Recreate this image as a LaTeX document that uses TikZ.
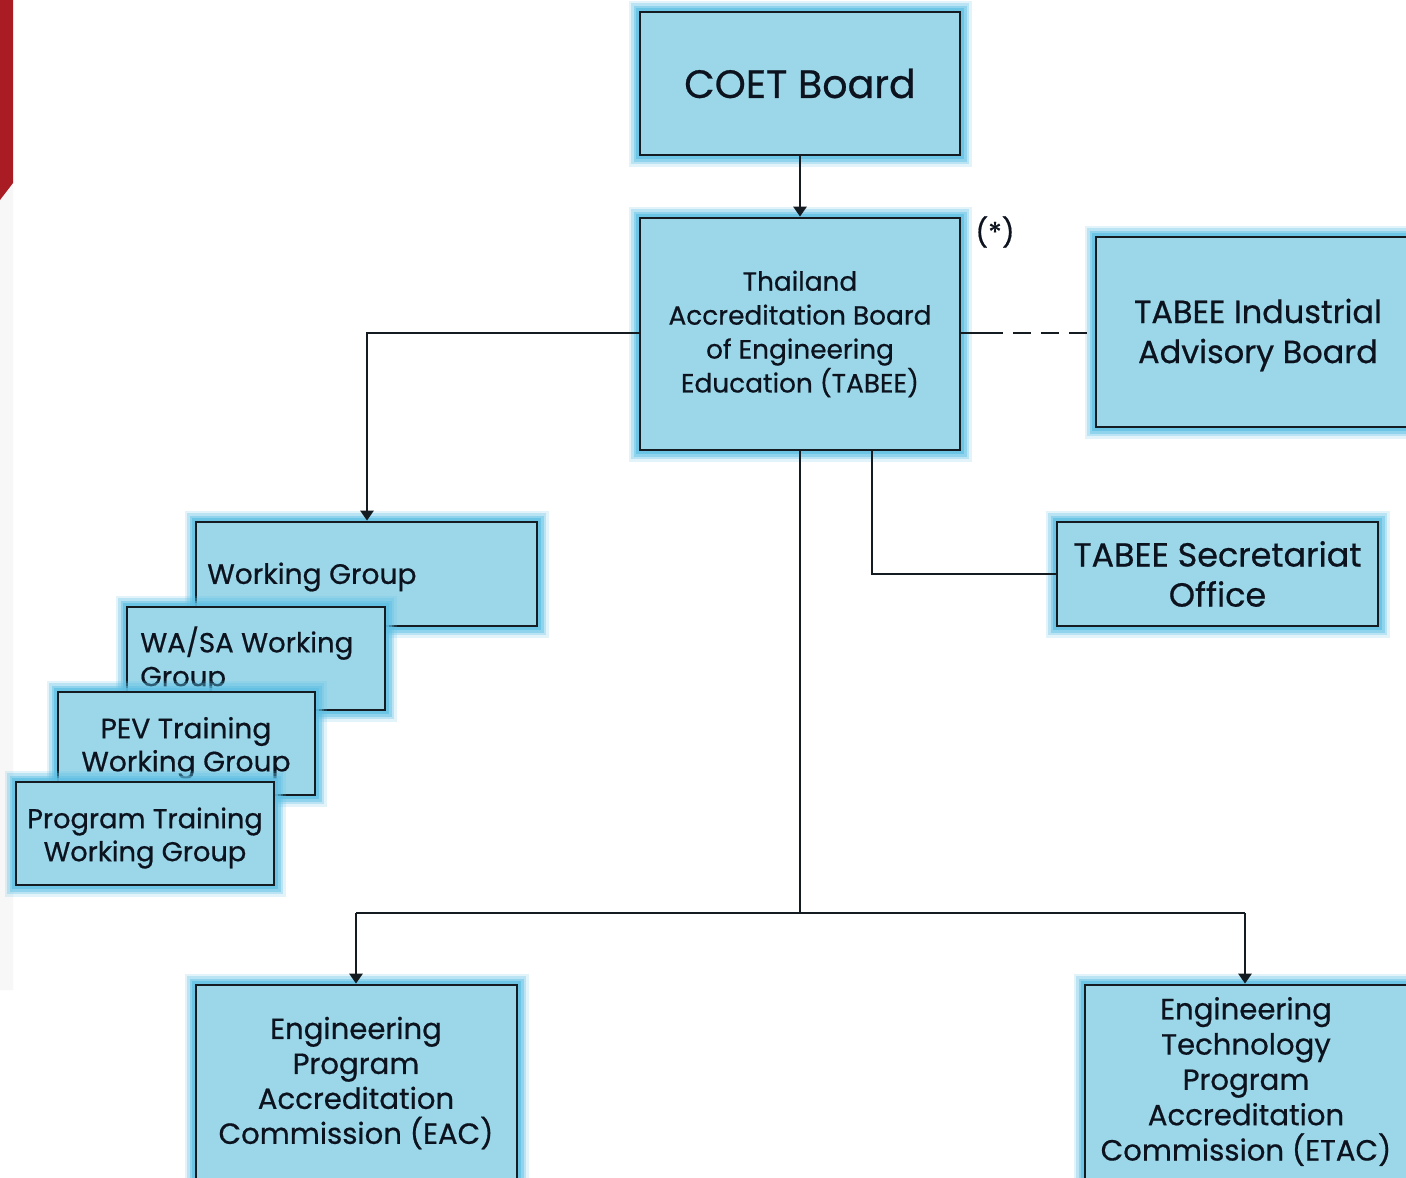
\documentclass[tikz,border=0pt]{standalone}
\usepackage{fontspec}
\setmainfont{Poppins}[FakeBold=0.6]
\usetikzlibrary{arrows.meta}
\definecolor{boxfill}{RGB}{155,215,232}
\definecolor{glowc}{RGB}{95,192,228}
\definecolor{linec}{RGB}{20,28,34}
\definecolor{textc}{RGB}{12,18,30}
\definecolor{redc}{RGB}{170,28,36}
\newcommand{\fs}[2]{\fontsize{#1}{#2}\selectfont}
\newcommand{\mybox}[7][]{%
  \node[bx, minimum width={(#5-#3)*0.02cm}, minimum height={(#6-#4)*0.02cm}, #1]
    (#2) at ({(#3+#5)/2},{(#4+#6)/2}) {#7};}
\tikzset{
  bx/.style={draw=linec, line width=0.055cm, fill=boxfill, inner sep=0pt, text=textc, align=center,
    preaction={draw=glowc, line width=0.46cm, opacity=0.18, rounded corners=0.2cm},
    preaction={draw=glowc, line width=0.36cm, opacity=0.3, rounded corners=0.15cm},
    preaction={draw=glowc, line width=0.26cm, opacity=0.45, rounded corners=0.1cm},
    preaction={draw=glowc, line width=0.16cm, opacity=0.7}},
  lbl/.style={text=textc, inner sep=0pt},
  conn/.style={draw=linec, line width=0.05cm},
  arr/.style={conn, -{Triangle[length=0.2cm, width=0.26cm]}},
}
\begin{document}
\begin{tikzpicture}[x=0.02cm, y=-0.02cm]
\useasboundingbox (0,0) rectangle (1406,1177);
\fill[white] (0,0) rectangle (1406,1177);
% slide decoration at left edge
\fill[black!3] (0,190) -- (13,180) -- (13,990) -- (0,990) -- cycle;
\fill[redc] (0,0) -- (13,0) -- (13,183) -- (0,200) -- cycle;

% boxes
\mybox[font=\fs{22.5}{27}]{coet}{640}{12}{960}{155}{COET Board}
\mybox[font=\fs{15}{19.3}]{tabee}{640}{218}{960}{450}{Thailand\\Accreditation Board\\of Engineering\\Education (TABEE)}
\mybox{iab}{1096}{237}{1420}{427}{}
\node[lbl, align=center, font=\fs{18.2}{22.8}] (iabt) at (1258,335) {TABEE Industrial\\Advisory Board};
\mybox[font=\fs{19}{22.8}]{sec}{1057}{522}{1378}{626}{TABEE Secretariat\\Office}
\mybox{wg}{196}{522}{537}{626}{}
\node[lbl, anchor=west, font=\fs{16}{19.4}] (wgt) at (207,577) {Working Group};
\mybox{wasa}{127}{607}{385}{710}{}
\node[lbl, anchor=north west, align=left, font=\fs{15.7}{19.3}] (wasat) at (140,626) {WA/SA Working\\Group};
\mybox{pev}{58}{692}{315}{795}{}
\node[lbl, align=center, font=\fs{16}{18.8}] (pevt) at (186,748) {PEV Training\\Working Group};
\mybox{ptw}{16}{782}{274}{885}{}
\node[lbl, align=center, font=\fs{15.5}{18.8}] (ptwt) at (145,838) {Program Training\\Working Group};
\mybox{eac}{196}{985}{517}{1200}{}
\node[lbl, align=center, font=\fs{16.6}{19.9}] (eact) at (356,1083) {Engineering\\Program\\Accreditation\\Commission (EAC)};
\mybox{etac}{1085}{985}{1420}{1200}{}
\node[lbl, align=center, font=\fs{16.6}{20.1}] (etact) at (1246,1081.5) {Engineering\\Technology\\Program\\Accreditation\\Commission (ETAC)};
\node[lbl, font=\fs{16}{19}] (star) at (995,232) {(*)};

% connectors
\coordinate (jl) at (367,333);
\coordinate (jd) at (985,333);
\coordinate (js) at (872,574);
\coordinate (jm) at (800,913);
\coordinate (je) at (356,913);
\coordinate (jt) at (1245,913);
\draw[arr] (coet.south) -- (tabee.north);
\draw[arr] (tabee.west |- jl) -- (jl) -- (jl |- wg.north);
\draw[conn] (tabee.east |- jd) -- (jd);
\draw[conn, dash pattern=on 0.36cm off 0.2cm] (jd) -- (iab.west |- jd);
\draw[conn] (js |- tabee.south) -- (js) -- (sec.west |- js);
\draw[conn] (tabee.south) -- (jm);
\draw[conn] (je) -- (jt);
\draw[arr] (je) -- (je |- eac.north);
\draw[arr] (jt) -- (jt |- etac.north);
\end{tikzpicture}
\end{document}
